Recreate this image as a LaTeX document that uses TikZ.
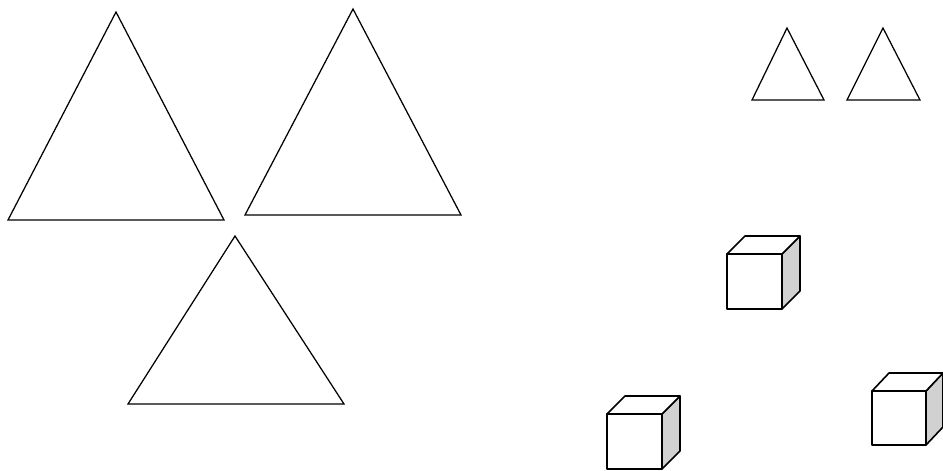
\documentclass[tikz,border=0pt]{standalone}
\begin{document}
\begin{tikzpicture}[x=1pt,y=-1pt,
  tri/.style={draw=black,line width=1.25pt,line join=miter},
  cubeline/.style={draw=black,line width=1.6pt,line join=round},
  side/.style={cubeline,fill=black!18},
  face/.style={cubeline,fill=white}]
\useasboundingbox (0,0) rectangle (943,471);
% large triangles
\draw[tri] (116,12) -- (224,220) -- (8,220) -- cycle;
\draw[tri] (353,9) -- (461,215) -- (245,215) -- cycle;
\draw[tri] (235,236) -- (344,404) -- (128,404) -- cycle;
% small triangles
\draw[tri] (787,28) -- (824,100) -- (752,100) -- cycle;
\draw[tri] (883,28) -- (920,100) -- (847,100) -- cycle;
% cubes: front x0,y0, size s, depth (dx,-dy)
\foreach \fx/\fy/\s/\dx/\dy in {727/254/55/18/18, 607/414/55/18/18, 872/391/54/17/18}{
  \draw[side] (\fx+\s,\fy) -- (\fx+\s+\dx,\fy-\dy) -- (\fx+\s+\dx,\fy+\s-\dy) -- (\fx+\s,\fy+\s) -- cycle;
  \draw[face] (\fx,\fy) -- (\fx+\dx,\fy-\dy) -- (\fx+\s+\dx,\fy-\dy) -- (\fx+\s,\fy) -- cycle;
  \draw[face] (\fx,\fy) rectangle (\fx+\s,\fy+\s);
}
\end{tikzpicture}
\end{document}
